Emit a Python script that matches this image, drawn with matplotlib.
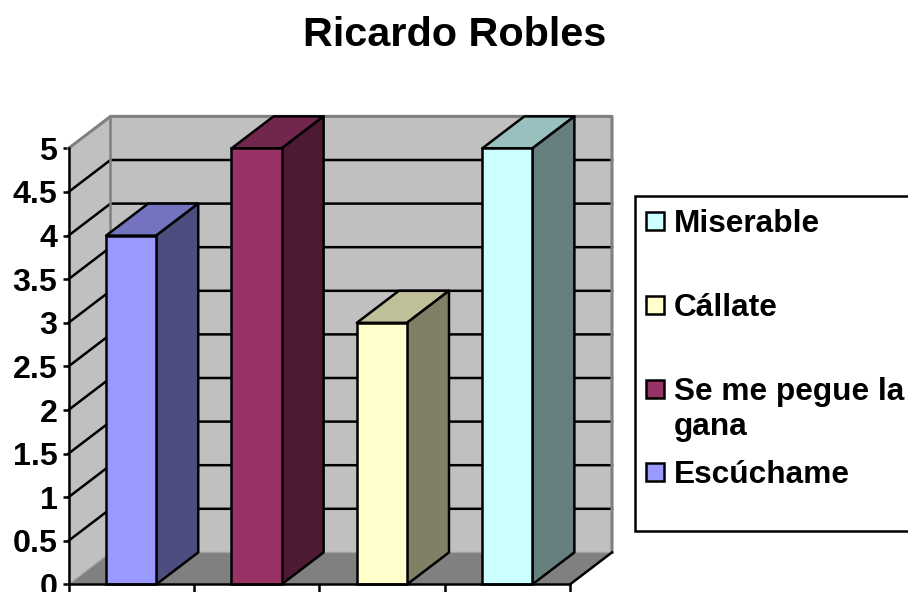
import matplotlib
matplotlib.use('Agg')
import matplotlib.pyplot as plt
from matplotlib.patches import Polygon, Rectangle

plt.rcParams['font.family'] = ['Liberation Sans', 'DejaVu Sans']
plt.rcParams['font.weight'] = 'bold'

title = 'Ricardo Robles'
categories = ['Escúchame', 'Se me pegue la\ngana', 'Cállate', 'Miserable']
values = [4, 5, 3, 5]
colors = ['#9999FF', '#993366', '#FFFFCC', '#CCFFFF']
top_colors = ['#7373BF', '#73264D', '#BFBF99', '#99BFBF']
side_colors = ['#4D4D80', '#4D1933', '#808066', '#668080']
y_ticks = [0, 0.5, 1, 1.5, 2, 2.5, 3, 3.5, 4, 4.5, 5]
y_labels = ['0', '0.5', '1', '1.5', '2', '2.5', '3', '3.5', '4', '4.5', '5']

W, H = 908, 592
LW = 1.8
WALL = '#C0C0C0'
EDGE = '#808080'

fig = plt.figure(figsize=(W / 100, H / 100), dpi=100, facecolor='white')
ax = fig.add_axes([68.5 / W, (H - 584.4) / H, 501.5 / W, 436 / H])
ax.set_xlim(0, 4)
ax.set_ylim(0, 5)
ax.patch.set_visible(False)

# 3d depth in data units
dx = 42 / 125.4
dy = 32 / 87.2


def poly(pts, fc, ec='none', lw=0, z=1):
    ax.add_patch(Polygon(pts, closed=True, facecolor=fc, edgecolor=ec, linewidth=lw,
                         clip_on=False, zorder=z, joinstyle='round'))


# walls and floor
poly([(0, 0), (dx, dy), (dx, 5 + dy), (0, 5)], WALL, z=1)
poly([(dx, dy), (4 + dx, dy), (4 + dx, 5 + dy), (dx, 5 + dy)], WALL, z=1)
poly([(0, 0), (4, 0), (4 + dx, dy), (dx, dy)], EDGE, z=1)

for y in y_ticks[1:-1]:
    ax.plot([0, dx, 4 + dx], [y, y + dy, y + dy], color='black', lw=LW, clip_on=False, zorder=2)

# wall edges
ax.plot([0, dx, 4 + dx, 4 + dx], [5, 5 + dy, 5 + dy, dy], color=EDGE, lw=LW + 0.4, clip_on=False, zorder=2)
ax.plot([dx, dx], [dy, 5 + dy], color=EDGE, lw=LW, clip_on=False, zorder=2)
ax.plot([0, dx], [0, dy], color='#A8A8A8', lw=1, clip_on=False, zorder=2)
ax.plot([dx, 4 + dx], [dy, dy], color='#A0A0A0', lw=1, clip_on=False, zorder=2)
ax.plot([4, 4 + dx], [0, dy], color='black', lw=LW, clip_on=False, zorder=2)

# bars
xs = [i + 0.5 for i in range(len(values))]
bw = 0.4
ax.bar(xs, values, width=bw, color=colors, edgecolor='black', linewidth=LW, clip_on=False, zorder=4)
for x, v, tc, sc in zip(xs, values, top_colors, side_colors):
    x0, x1 = x - bw / 2, x + bw / 2
    poly([(x0, v), (x1, v), (x1 + dx, v + dy), (x0 + dx, v + dy)], tc, 'black', LW, 3)
    poly([(x1, 0), (x1 + dx, dy), (x1 + dx, v + dy), (x1, v)], sc, 'black', LW, 3)

ax.set_yticks(y_ticks, y_labels, fontsize=23.2, fontweight='bold')
ax.set_xticks(range(5), [])
ax.tick_params(axis='y', length=4.5, width=LW, pad=3.5)
ax.tick_params(axis='x', length=6, width=LW)
for s in ['top', 'right']:
    ax.spines[s].set_visible(False)
for s in ['left', 'bottom']:
    ax.spines[s].set_linewidth(LW)
    ax.spines[s].set_zorder(5)

# title + legend in pixel coords
pax = fig.add_axes([0, 0, 1, 1])
pax.set_xlim(0, W)
pax.set_ylim(H, 0)
pax.axis('off')
pax.patch.set_visible(False)
pax.text(454.5, 34.5, title, fontsize=29.8, fontweight='bold', ha='center', va='center')
pax.add_patch(Rectangle((634.5, 195.5), 290, 335, facecolor='white', edgecolor='black', linewidth=LW))

legend_y = [472, 389, 305, 221]
for name, col, y in zip(categories, colors, legend_y):
    pax.add_patch(Rectangle((645.5, y - 9), 18, 18, facecolor=col, edgecolor='black', linewidth=LW))
    pax.text(674, y - 12, name, fontsize=22.8, fontweight='bold', ha='left', va='top', linespacing=1.2)

fig.savefig('out.png', dpi=100)
